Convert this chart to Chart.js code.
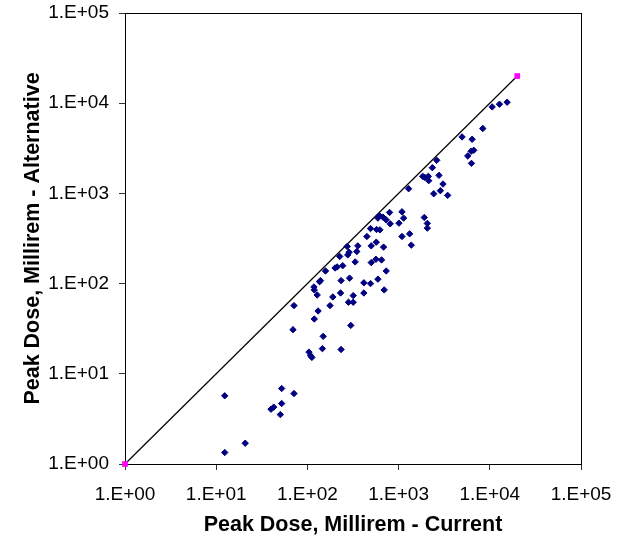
<!DOCTYPE html>
<html>
<head>
<meta charset="utf-8">
<script src="https://cdn.jsdelivr.net/npm/chart.js@4/dist/chart.umd.min.js"></script>
<style>
  html, body { margin: 0; padding: 0; background: #fff; overflow: hidden; }
  canvas { display: block; }
</style>
</head>
<body>
<canvas id="dose" width="629" height="544"></canvas>
<script>
// Peak dose per case: current vs alternative (millirem)
const currentDose = [
  12.4, 12.4, 20.8, 39.9, 42.7, 52.2, 52.2, 50.5, 71.3, 69.5,
  71.3, 104, 108, 112, 146, 149, 234, 299, 119, 131,
  119, 118, 128, 136, 139, 158, 177, 190, 201, 212,
  244, 226, 234, 231, 282, 318, 318, 290, 273, 277,
  287, 334, 348, 357, 416, 416, 492, 449, 492, 501,
  501, 564, 569, 573, 624, 650, 593, 695, 731, 684,
  593, 618, 673, 731, 796, 809, 1009, 1089, 1135, 1089,
  1321, 1377, 1288, 1914, 2065, 2065, 1837, 1932, 2118, 2138,
  2344, 2618, 2773, 3069, 2871, 2427, 3451, 4966, 6397, 5728,
  6237, 6668, 6295, 8375, 10617, 12764, 15488
];
const altDose = [
  5.7, 1.34, 1.70, 4.05, 4.27, 6.87, 4.68, 3.53, 6.04, 30.8,
  57.0, 17.4, 16.0, 15.2, 19.0, 26.0, 18.6, 34.4, 40.5, 49.7,
  85.1, 91.8, 74.8, 105, 108, 138, 57.0, 71.1, 149, 153,
  158, 200, 108, 78.7, 62.1, 62.1, 73.6, 115, 258, 208,
  223, 174, 227, 262, 102, 78.7, 100, 333, 408, 262,
  171, 186, 288, 398, 394, 183, 112, 85.1, 138, 254,
  532, 565, 546, 509, 615, 460, 468, 625, 532, 333,
  356, 267, 1127, 541, 465, 412, 1545, 1507, 1545, 1384,
  1928, 2328, 1585, 1271, 1072, 991, 951, 4227, 3981, 2600,
  2931, 3006, 2153, 5236, 9099, 9750, 10257
];
// 1:1 reference line end points
const equalX = [1, 20000];
const equalY = [1, 20000];
const decadeTicks = [1, 10, 100, 1000, 10000, 100000];

const xTitle = "Peak Dose, Millirem - Current";
const yTitle = "Peak Dose, Millirem - Alternative";

const FONT = "'Liberation Sans', Arial, sans-serif";

const points = currentDose.map((x, i) => ({ x, y: altDose[i] }));
const line = equalX.map((x, i) => ({ x, y: equalY[i] }));

function sci(v) {
  const e = Math.round(Math.log10(v));
  return "1.E" + (e < 0 ? "-" : "+") + String(Math.abs(e)).padStart(2, "0");
}

// frame round the plot area plus the two axis titles
const framePlugin = {
  id: "frame",
  beforeDatasetsDraw(chart) {
    const { ctx, chartArea: a } = chart;
    ctx.save();
    ctx.strokeStyle = "#000";
    ctx.lineWidth = 1;
    ctx.strokeRect(Math.round(a.left) + 0.5, Math.round(a.top) + 0.5,
      Math.round(a.right - a.left), Math.round(a.bottom - a.top));
    ctx.restore();
  },
  afterDraw(chart) {
    const { ctx, chartArea: a } = chart;
    ctx.save();
    ctx.fillStyle = "#000";
    ctx.font = "bold 21.5px " + FONT;
    ctx.textAlign = "center";
    ctx.textBaseline = "middle";
    ctx.fillText(xTitle, (a.left + a.right) / 2, 525);
    ctx.translate(33, (a.top + a.bottom) / 2);
    ctx.rotate(-Math.PI / 2);
    ctx.fillText(yTitle, 0, 0);
    ctx.restore();
  }
};

// fixed axis size, and no extra room for the end labels (layout padding handles that)
function decadeAxis(fit) {
  return {
    type: "logarithmic",
    min: 1,
    max: 100000,
    afterBuildTicks: (s) => { s.ticks = decadeTicks.map((v) => ({ value: v })); },
    afterFit: (s) => {
      fit(s);
      s.paddingTop = 0; s.paddingBottom = 0; s.paddingLeft = 0; s.paddingRight = 0;
    },
    border: { display: true, color: "#000", width: 1 },
    grid: { drawOnChartArea: false, drawTicks: true, tickLength: 6, color: "#333" },
    ticks: { color: "#000", font: { family: FONT, size: 19 }, callback: (v) => sci(v), maxRotation: 0, autoSkip: false }
  };
}

const xAxis = decadeAxis((s) => { s.height = 80; });
xAxis.ticks.padding = 13;
const yAxis = decadeAxis((s) => { s.width = 125; });
yAxis.ticks.padding = 10;

new Chart(document.getElementById("dose"), {
  type: "scatter",
  data: {
    datasets: [
      {
        label: "Cases",
        data: points,
        pointStyle: "rectRot",
        pointRadius: 3.2,
        pointBorderWidth: 1,
        backgroundColor: "#000080",
        borderColor: "#000080"
      },
      {
        label: "1:1",
        data: line,
        showLine: true,
        clip: false,
        borderColor: "#000",
        borderWidth: 1.2,
        pointStyle: "rect",
        pointRadius: 4,
        pointBorderWidth: 0,
        pointBackgroundColor: "#ff00ff"
      }
    ]
  },
  options: {
    responsive: false,
    animation: false,
    devicePixelRatio: 1,
    layout: { padding: { left: 0, right: 48, top: 13, bottom: 0 } },
    plugins: { legend: { display: false }, tooltip: { enabled: false } },
    scales: { x: xAxis, y: yAxis }
  },
  plugins: [framePlugin]
});
</script>
</body>
</html>
